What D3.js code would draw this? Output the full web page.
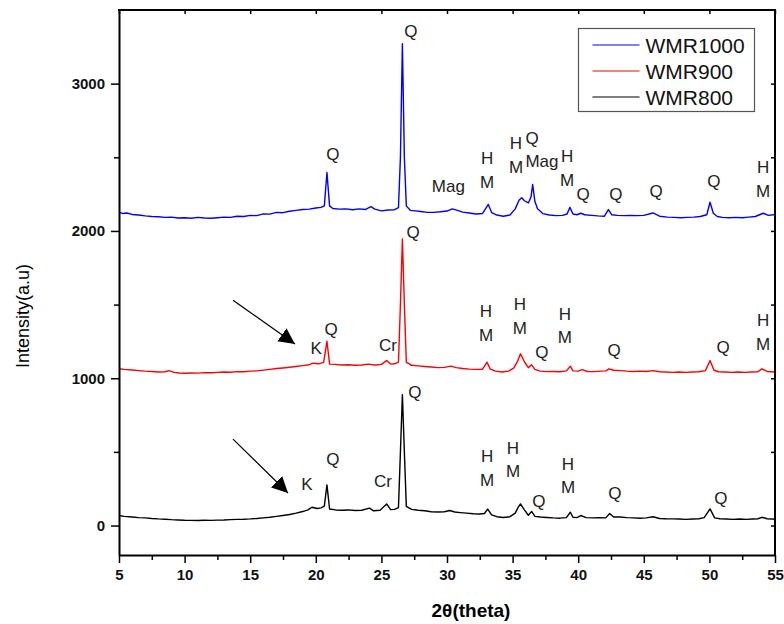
<!DOCTYPE html>
<html>
<head>
<meta charset="utf-8">
<script src="https://cdn.jsdelivr.net/npm/d3@7/dist/d3.min.js"></script>
<style>
  body { margin: 0; background: #fff; }
  text { font-family: Arial, "Liberation Sans", sans-serif; }
  .tick text { font-weight: bold; font-size: 15px; fill: #111; }
</style>
</head>
<body>
<svg id="chart" width="784" height="624"></svg>
<script>
// XRD patterns, [2theta, intensity]
const wmr1000 = [[5,2128],[5.3,2118],[5.6,2122],[6,2112],[6.5,2108],[7,2102],[7.5,2098],[8,2096],[8.5,2092],[9,2094],[9.5,2088],[10,2090],[10.5,2086],[11,2092],[11.5,2088],[12,2086],[12.5,2090],[13,2094],[13.5,2092],[14,2100],[14.5,2098],[15,2106],[15.5,2104],[16,2116],[16.5,2114],[17,2126],[17.5,2124],[18,2134],[18.5,2140],[19,2146],[19.5,2148],[20,2156],[20.4,2160],[20.65,2170],[20.85,2397],[21.05,2170],[21.3,2152],[21.8,2148],[22.3,2150],[22.8,2144],[23.3,2150],[23.8,2146],[24.2,2165],[24.5,2148],[25,2136],[25.5,2142],[26,2144],[26.3,2158],[26.45,2500],[26.6,3272],[26.75,2500],[26.9,2170],[27.2,2140],[27.6,2136],[28,2132],[28.5,2126],[29,2126],[29.5,2130],[30,2135],[30.4,2150],[30.8,2140],[31.2,2128],[31.7,2122],[32.2,2115],[32.7,2118],[33.15,2180],[33.4,2125],[33.8,2108],[34.3,2100],[34.8,2108],[35.2,2150],[35.5,2210],[35.7,2225],[35.9,2205],[36.2,2190],[36.4,2230],[36.53,2315],[36.7,2200],[36.9,2150],[37.3,2118],[37.8,2108],[38.3,2104],[38.8,2106],[39.15,2115],[39.37,2160],[39.6,2115],[39.9,2110],[40.2,2120],[40.5,2110],[41,2106],[41.5,2102],[42,2100],[42.3,2145],[42.55,2110],[43,2106],[43.5,2104],[44,2106],[44.5,2104],[45,2106],[45.7,2122],[46.2,2100],[46.8,2094],[47.3,2092],[47.8,2090],[48.3,2092],[48.8,2094],[49.3,2098],[49.8,2110],[50.05,2195],[50.3,2120],[50.6,2098],[51,2092],[51.5,2090],[52,2092],[52.5,2090],[53,2094],[53.5,2098],[54.1,2120],[54.5,2106],[55,2112]];

const wmr900 = [[5,1064],[5.4,1060],[6,1056],[6.5,1052],[7,1048],[7.5,1046],[8,1042],[8.5,1044],[8.8,1052],[9.2,1040],[9.6,1036],[10,1034],[10.5,1036],[11,1035],[11.5,1038],[12,1037],[12.5,1040],[13,1042],[13.5,1041],[14,1045],[14.5,1044],[15,1048],[15.5,1050],[16,1055],[16.5,1060],[17,1066],[17.5,1070],[18,1075],[18.5,1080],[19,1086],[19.5,1092],[19.8,1102],[20.2,1098],[20.6,1108],[20.85,1251],[21.05,1096],[21.5,1094],[22,1090],[22.5,1092],[23,1088],[23.5,1090],[24,1096],[24.5,1090],[25,1094],[25.4,1120],[25.7,1096],[26,1098],[26.3,1110],[26.45,1500],[26.6,1946],[26.75,1500],[26.9,1110],[27.3,1088],[27.8,1084],[28.3,1080],[28.8,1076],[29.3,1072],[29.8,1074],[30.3,1082],[30.7,1072],[31.2,1066],[31.7,1062],[32.2,1060],[32.7,1060],[33.05,1109],[33.3,1062],[33.7,1048],[34.2,1042],[34.7,1048],[35.1,1070],[35.4,1120],[35.6,1166],[35.9,1112],[36.2,1072],[36.45,1091],[36.7,1060],[37.1,1048],[37.6,1045],[38.1,1046],[38.6,1044],[39.1,1050],[39.4,1082],[39.6,1050],[40,1048],[40.3,1058],[40.7,1046],[41.2,1045],[41.7,1048],[42.1,1050],[42.35,1064],[42.7,1054],[43.2,1052],[43.7,1048],[44.2,1046],[44.7,1048],[45.2,1046],[45.7,1052],[46.2,1044],[46.7,1042],[47.2,1040],[47.7,1042],[48.2,1040],[48.7,1042],[49.2,1044],[49.7,1052],[50.05,1120],[50.35,1054],[50.7,1044],[51.2,1042],[51.7,1040],[52.2,1042],[52.7,1040],[53.2,1042],[53.7,1044],[54,1064],[54.4,1046],[54.8,1044],[55,1040]];

const wmr800 = [[5,68],[5.4,62],[6,58],[6.5,54],[7,52],[7.5,48],[8,45],[8.5,43],[9,40],[9.5,38],[10,36],[10.5,35],[11,34],[11.5,36],[12,35],[12.5,37],[13,38],[13.5,40],[14,42],[14.5,43],[15,45],[15.5,48],[16,52],[16.5,56],[17,62],[17.5,68],[18,75],[18.5,84],[19,95],[19.4,106],[19.7,124],[20.1,116],[20.4,120],[20.65,132],[20.85,276],[21.05,112],[21.5,106],[22,104],[22.5,106],[23,102],[23.5,104],[24.1,118],[24.4,100],[24.9,104],[25.4,147],[25.7,108],[26,110],[26.3,122],[26.45,500],[26.6,889],[26.75,500],[26.9,130],[27.3,110],[27.8,104],[28.3,100],[28.8,94],[29.3,92],[29.8,94],[30.2,102],[30.6,92],[31,88],[31.5,84],[32,80],[32.5,78],[32.85,82],[33.1,112],[33.4,72],[33.8,60],[34.3,55],[34.8,60],[35.2,84],[35.4,120],[35.6,147],[35.9,106],[36.2,70],[36.45,96],[36.7,62],[37.1,58],[37.6,55],[38.1,52],[38.6,50],[39.1,54],[39.4,90],[39.6,56],[39.9,54],[40.2,68],[40.6,54],[41.1,52],[41.6,54],[42.1,52],[42.4,82],[42.7,58],[43.2,58],[43.7,54],[44.2,52],[44.7,50],[45.2,52],[45.7,60],[46.2,48],[46.7,46],[47.2,45],[47.7,44],[48.2,42],[48.7,44],[49.2,46],[49.6,54],[50.05,113],[50.4,52],[50.8,46],[51.3,44],[51.8,42],[52.3,44],[52.8,42],[53.3,44],[53.7,46],[54,56],[54.4,46],[54.8,44],[55,42]];

const seriesNames = ["WMR1000", "WMR900", "WMR800"];
const seriesColors = ["#0000ff", "#ff0000", "#000000"];

const xTicks = [5, 10, 15, 20, 25, 30, 35, 40, 45, 50, 55];
const xMinor = [7.5, 12.5, 17.5, 22.5, 27.5, 32.5, 37.5, 42.5, 47.5, 52.5];
const yTicks = [0, 1000, 2000, 3000];
const yMinor = [500, 1500, 2500];

// phase labels, [2theta, intensity, text]
const labels1000 = [[21.3,2480,"Q"],[27.25,3315,"Q"],[30.1,2265,"Mag"],[33.05,2455,"H"],[33.05,2290,"M"],
  [35.26,2556,"H"],[35.26,2393,"M"],[36.48,2590,"Q"],[37.24,2434,"Mag"],[39.15,2468,"H"],[39.15,2305,"M"],
  [40.37,2210,"Q"],[42.88,2210,"Q"],[45.93,2230,"Q"],[50.35,2298,"Q"],[54.1,2393,"H"],[54.1,2230,"M"]];
const labels900 = [[27.41,1952,"Q"],[21.16,1293,"Q"],[20.02,1164,"K"],[25.5,1185,"Cr"],[32.97,1415,"H"],[32.97,1253,"M"],
  [35.56,1463,"H"],[35.56,1300,"M"],[38.99,1395,"H"],[38.99,1239,"M"],[37.24,1137,"Q"],[42.73,1151,"Q"],
  [51.04,1171,"Q"],[54.09,1354,"H"],[54.09,1192,"M"]];
const labels800 = [[27.56,866,"Q"],[21.31,411,"Q"],[19.33,241,"K"],[25.12,261,"Cr"],[33.05,431,"H"],[33.05,268,"M"],
  [35.03,485,"H"],[35.03,329,"M"],[39.22,377,"H"],[39.22,221,"M"],[37.01,126,"Q"],[42.8,180,"Q"],[50.88,146,"Q"]];

// arrows, [x0, y0, x1, y1] in data units
const arrows = [[13.69,1530,18.41,1232],[13.69,587,17.88,221]];

const margin = {left: 119, top: 10, right: 9, bottom: 69};
const W = 784, H = 624;
const width = W - margin.left - margin.right,
    height = H - margin.top - margin.bottom;

const svg = d3.select("#chart");
const g = svg.append("g").attr("transform", `translate(${margin.left},${margin.top})`);

const x = d3.scaleLinear().domain([5, 55]).range([0, width]);
const y = d3.scaleLinear().domain([-200, 3500]).range([height, 0]);

// the traces
const line = d3.line().x(d => x(d[0])).y(d => y(d[1]));
[wmr1000, wmr900, wmr800].forEach(function(data, i) {
  g.append("path")
    .datum(data)
    .attr("fill", "none")
    .attr("stroke", seriesColors[i])
    .attr("stroke-width", 1.4)
    .attr("stroke-linejoin", "round")
    .attr("d", line);
});

// phase labels
[labels1000, labels900, labels800].forEach(function(lab) {
  g.selectAll(null)
    .data(lab)
    .enter().append("text")
    .attr("x", d => x(d[0]))
    .attr("y", d => y(d[1]))
    .attr("text-anchor", "middle")
    .style("font-size", "17px")
    .style("fill", "#222")
    .text(d => d[2]);
});

// arrows
svg.append("defs").append("marker")
    .attr("id", "head")
    .attr("viewBox", "0 0 10 10")
    .attr("refX", 10).attr("refY", 5)
    .attr("markerWidth", 16).attr("markerHeight", 16)
    .attr("markerUnits", "userSpaceOnUse")
    .attr("orient", "auto")
  .append("path")
    .attr("d", "M0,0 L10,5 L0,10 Z")
    .attr("fill", "#000");
g.selectAll(".arrow")
  .data(arrows)
  .enter().append("line")
  .attr("class", "arrow")
  .attr("x1", d => x(d[0])).attr("y1", d => y(d[1]))
  .attr("x2", d => x(d[2])).attr("y2", d => y(d[3]))
  .attr("stroke", "#000")
  .attr("stroke-width", 1.2)
  .attr("marker-end", "url(#head)");

// axes
const fmt = d3.format("d");
g.append("g")
    .attr("transform", `translate(0,${height})`)
    .call(d3.axisBottom(x).tickValues(xTicks).tickFormat(fmt).tickSize(8).tickSizeOuter(0).tickPadding(6));
g.append("g")
    .attr("transform", `translate(0,${height})`)
    .call(d3.axisBottom(x).tickValues(xMinor).tickSize(5).tickFormat(""))
    .select(".domain").remove();
g.append("g")
    .call(d3.axisLeft(y).tickValues(yTicks).tickFormat(fmt).tickSize(8).tickSizeOuter(0).tickPadding(6));
g.append("g")
    .call(d3.axisLeft(y).tickValues(yMinor).tickSize(5).tickFormat(""))
    .select(".domain").remove();
// mirrored ticks on top and right, pointing inward
g.append("g")
    .call(d3.axisBottom(x).tickValues(xTicks).tickSize(4).tickFormat(""))
    .select(".domain").remove();
g.append("g")
    .attr("transform", `translate(${width},0)`)
    .call(d3.axisLeft(y).tickValues(yTicks.concat(yMinor)).tickSize(4).tickFormat(""))
    .select(".domain").remove();

g.selectAll(".domain").attr("stroke-width", 2);
g.selectAll(".tick line").attr("stroke-width", 1.5);

// frame on top and right
g.append("line").attr("x1", -1).attr("x2", width + 1).attr("y1", 0).attr("y2", 0)
    .attr("stroke", "#000").attr("stroke-width", 2);
g.append("line").attr("x1", width).attr("x2", width).attr("y1", 0).attr("y2", height)
    .attr("stroke", "#000").attr("stroke-width", 2);

// axis titles
svg.append("text")
    .attr("x", 471).attr("y", 617)
    .attr("text-anchor", "middle")
    .style("font-size", "19px").style("font-weight", "bold")
    .text("2θ(theta)");
svg.append("text")
    .attr("transform", "translate(29,316) rotate(-90)")
    .attr("text-anchor", "middle")
    .style("font-size", "18px")
    .text("Intensity(a.u)");

// legend
const legend = svg.append("g").attr("transform", "translate(578.5,28.5)");
legend.append("rect")
    .attr("width", 176).attr("height", 83)
    .attr("fill", "#fff").attr("stroke", "#555").attr("stroke-width", 1.2);
seriesNames.forEach(function(name, i) {
  const row = legend.append("g").attr("transform", `translate(0,${16.5 + i * 26})`);
  row.append("line").attr("x1", 14).attr("x2", 61)
      .attr("stroke", seriesColors[i]).attr("stroke-width", 1.2);
  row.append("text").attr("x", 67).attr("y", 7.5)
      .style("font-size", "21px").style("fill", "#111")
      .text(name);
});
</script>
</body>
</html>
